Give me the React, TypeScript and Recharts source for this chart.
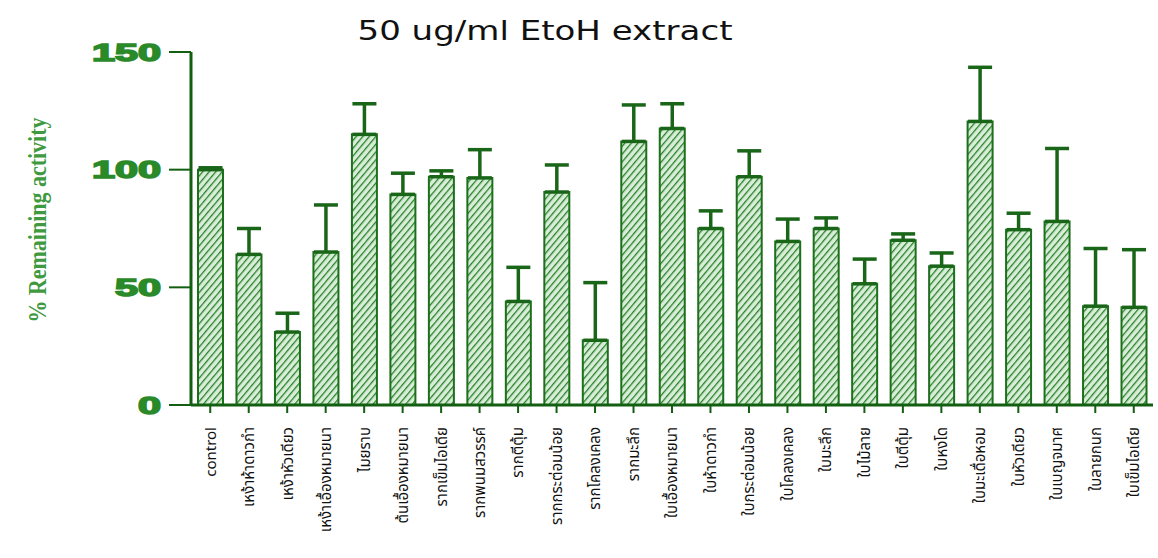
import { Bar, BarChart, ErrorBar, XAxis, YAxis } from "recharts";

// sample names, in plotting order
const samples = [
  "control",
  "เหง้าห้าดาวกำ",
  "เหง้าหัวเดียว",
  "เหง้าเอื้องหมายนา",
  "ไมยราบ",
  "ต้นเอื้องหมายนา",
  "รากเข็มไอเดีย",
  "รากพนมสวรรค์",
  "รากตีตุ้ม",
  "รากกระต่อมน้อย",
  "รากโคลงเคลง",
  "รากมะลึก",
  "ใบเอื้องหมายนา",
  "ใบห้าดาวกำ",
  "ใบกระต่อมน้อย",
  "ใบโคลงเคลง",
  "ใบมะลึก",
  "ใบไม้ลาย",
  "ใบตีตุ้ม",
  "ใบหงโด",
  "ใบมะเดื่อหอม",
  "ใบหัวเดียว",
  "ใบเบญจมาศ",
  "ใบลายกนก",
  "ใบเข็มไอเดีย",
];

// % remaining activity (mean) and upper error (SD)
const activity = [
  100, 64, 31, 65, 115, 89.5, 97, 96.5, 44, 90.5, 27.5, 112, 117.5, 75, 97,
  69.5, 75, 51.5, 70, 59, 120.5, 74.5, 78, 42, 41.5,
];
const sd = [
  0.8, 11, 8, 20, 13, 9, 2.5, 12, 14.5, 11.5, 24.5, 15.5, 10.5, 7.5, 11, 9.5,
  4.5, 10.5, 2.7, 5.6, 23, 7, 31, 24.5, 24.5,
];

const yTicks = [0, 50, 100, 150];

const data = samples.map((name, i) => ({
  name,
  value: activity[i],
  err: [0, sd[i]],
}));

const AXIS = "#125f12";
const TICK_GREEN = "#2a8a2a";

const YTick = (props: any) => {
  const { x, y, payload } = props;
  const s = String(payload.value);
  return (
    <text
      x={x}
      y={y}
      dy="0.36em"
      textAnchor="end"
      fill={TICK_GREEN}
      stroke={TICK_GREEN}
      strokeWidth={1.6}
      fontFamily="'Liberation Sans', Arial, sans-serif"
      fontWeight="bold"
      fontSize={24}
      textLength={s.length * 23}
      lengthAdjust="spacingAndGlyphs"
    >
      {s}
    </text>
  );
};

const XTick = (props: any) => {
  const { x, y, payload } = props;
  return (
    <g transform={`translate(${x},${y})`}>
      <text
        transform="rotate(-90)"
        textAnchor="end"
        dy="0.36em"
        fill="#111"
        fontFamily="Tahoma, 'Noto Sans Thai', Loma, Garuda, 'DejaVu Sans', sans-serif"
        fontSize={15}
      >
        {payload.value}
      </text>
    </g>
  );
};

export default function App() {
  return (
    <div style={{ position: "absolute", left: 0, top: 0, background: "#fff" }}>
      <svg
        width={1158}
        height={558}
        style={{ position: "absolute", left: 0, top: 0, pointerEvents: "none" }}
      >
        <text
          x={545}
          y={40}
          textAnchor="middle"
          fontFamily="'DejaVu Sans', Verdana, sans-serif"
          fontSize={26}
          fill="#111"
          textLength={375}
          lengthAdjust="spacingAndGlyphs"
        >
          50 ug/ml EtoH extract
        </text>
        <text
          transform="translate(46,220) rotate(-90)"
          textAnchor="middle"
          fontFamily="'Liberation Serif', 'Times New Roman', serif"
          fontWeight="bold"
          fontSize={26}
          fill="#3f9a3f"
          textLength={205}
          lengthAdjust="spacingAndGlyphs"
        >
          % Remaining activity
        </text>
      </svg>
      <BarChart
        width={1158}
        height={558}
        data={data}
        margin={{ top: 52, right: 5, left: 0, bottom: 0 }}
        barSize={25}
      >
        <defs>
          <pattern
            id="hatch"
            patternUnits="userSpaceOnUse"
            width={5}
            height={5}
            patternTransform="rotate(40)"
          >
            <rect width={5} height={5} fill="#d9eed9" />
            <line x1={0} y1={0} x2={0} y2={5} stroke="#277f27" strokeWidth={2.6} />
          </pattern>
        </defs>
        <XAxis
          dataKey="name"
          interval={0}
          height={153}
          tickSize={8}
          tickMargin={14}
          tick={<XTick />}
          axisLine={{ stroke: AXIS, strokeWidth: 3 }}
          tickLine={{ stroke: AXIS, strokeWidth: 2 }}
        />
        <YAxis
          width={191}
          domain={[0, 150]}
          ticks={yTicks}
          tickSize={22}
          tickMargin={8}
          tick={<YTick />}
          axisLine={{ stroke: AXIS, strokeWidth: 3 }}
          tickLine={{ stroke: AXIS, strokeWidth: 2 }}
        />
        <Bar
          dataKey="value"
          fill="url(#hatch)"
          stroke="#1c701c"
          strokeWidth={2}
          isAnimationActive={false}
        >
          <ErrorBar
            dataKey="err"
            width={12}
            stroke="#196619"
            strokeWidth={3.5}
            isAnimationActive={false}
          />
        </Bar>
      </BarChart>
    </div>
  );
}
